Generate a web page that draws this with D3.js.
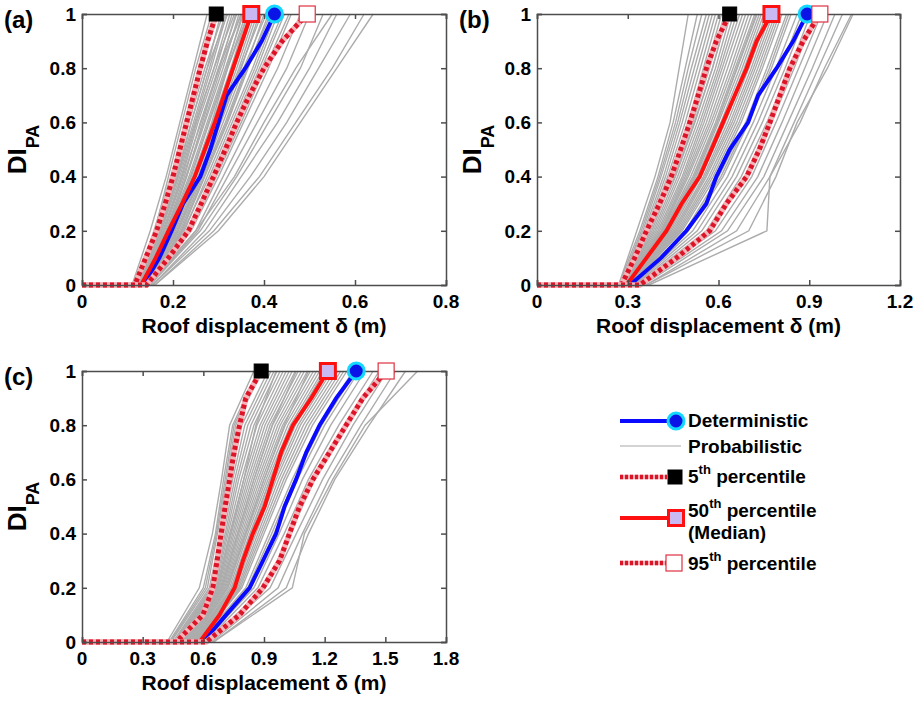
<!DOCTYPE html>
<html>
<head>
<meta charset="utf-8">
<script src="https://cdn.jsdelivr.net/npm/d3@7"></script>
<style>
  body { margin: 0; background: #fff; }
  svg { font-family: "Liberation Sans", Arial, sans-serif; font-weight: bold; }
</style>
</head>
<body>
<svg width="920" height="701"></svg>
<script>
// DI levels used by the curves
const diFine = [0, 0.1, 0.2, 0.3, 0.4, 0.5, 0.6, 0.7, 0.8, 0.9, 1];
const diCoarse = [0, 0.2, 0.4, 0.6, 0.8, 1];
const yTicks = [0, 0.2, 0.4, 0.6, 0.8, 1];

// roof displacement (m) at each diFine level
const detA = [0.135, 0.17, 0.197, 0.222, 0.26, 0.282, 0.30, 0.318, 0.359, 0.395, 0.423];
const p5A = [0.116, 0.14, 0.164, 0.183, 0.2, 0.215, 0.23, 0.245, 0.26, 0.276, 0.295];
const p50A = [0.13, 0.162, 0.19, 0.22, 0.248, 0.27, 0.292, 0.312, 0.332, 0.352, 0.372];
const p95A = [0.142, 0.19, 0.234, 0.262, 0.289, 0.315, 0.34, 0.368, 0.40, 0.44, 0.495];

const detB = [0.307, 0.41, 0.494, 0.56, 0.593, 0.637, 0.698, 0.731, 0.792, 0.847, 0.893];
const p5B = [0.279, 0.323, 0.362, 0.405, 0.444, 0.475, 0.505, 0.533, 0.56, 0.593, 0.637];
const p50B = [0.296, 0.362, 0.428, 0.478, 0.538, 0.577, 0.615, 0.654, 0.693, 0.726, 0.775];
const p95B = [0.34, 0.461, 0.571, 0.626, 0.693, 0.735, 0.77, 0.803, 0.836, 0.88, 0.935];

const detC = [0.598, 0.713, 0.829, 0.895, 0.96, 1.002, 1.059, 1.109, 1.175, 1.257, 1.356];
const p5C = [0.466, 0.598, 0.647, 0.668, 0.688, 0.708, 0.73, 0.752, 0.779, 0.81, 0.886];
const p50C = [0.582, 0.68, 0.755, 0.796, 0.845, 0.903, 0.944, 0.985, 1.043, 1.134, 1.216];
const p95C = [0.614, 0.779, 0.895, 0.977, 1.026, 1.076, 1.142, 1.224, 1.306, 1.389, 1.504];

// probabilistic runs: displacement at each diCoarse level
const probA = [
  [0.11, 0.15, 0.185, 0.215, 0.245, 0.275], [0.115, 0.16, 0.19, 0.22, 0.25, 0.285],
  [0.12, 0.165, 0.2, 0.225, 0.26, 0.30], [0.12, 0.17, 0.205, 0.235, 0.27, 0.31],
  [0.12, 0.175, 0.21, 0.245, 0.28, 0.315], [0.125, 0.175, 0.215, 0.25, 0.29, 0.325],
  [0.125, 0.18, 0.22, 0.255, 0.295, 0.33], [0.125, 0.185, 0.225, 0.26, 0.30, 0.34],
  [0.13, 0.19, 0.23, 0.27, 0.31, 0.345], [0.13, 0.19, 0.235, 0.275, 0.315, 0.355],
  [0.13, 0.195, 0.24, 0.28, 0.32, 0.36], [0.13, 0.2, 0.245, 0.29, 0.33, 0.37],
  [0.135, 0.2, 0.25, 0.295, 0.335, 0.375], [0.135, 0.205, 0.255, 0.30, 0.345, 0.385],
  [0.135, 0.21, 0.26, 0.305, 0.35, 0.39], [0.135, 0.215, 0.265, 0.315, 0.36, 0.40],
  [0.14, 0.22, 0.27, 0.32, 0.365, 0.41], [0.14, 0.225, 0.275, 0.325, 0.375, 0.42],
  [0.14, 0.23, 0.285, 0.335, 0.385, 0.43], [0.14, 0.235, 0.29, 0.345, 0.395, 0.445],
  [0.145, 0.24, 0.30, 0.355, 0.41, 0.46], [0.145, 0.25, 0.31, 0.37, 0.43, 0.48],
  [0.15, 0.255, 0.32, 0.385, 0.45, 0.50], [0.15, 0.26, 0.34, 0.41, 0.48, 0.53],
  [0.155, 0.27, 0.35, 0.43, 0.50, 0.56], [0.155, 0.28, 0.37, 0.45, 0.52, 0.59],
  [0.16, 0.29, 0.39, 0.47, 0.55, 0.62], [0.16, 0.30, 0.40, 0.48, 0.56, 0.64],
  [0.15, 0.25, 0.335, 0.40, 0.47, 0.55], [0.125, 0.17, 0.21, 0.24, 0.275, 0.32],
  [0.13, 0.185, 0.23, 0.265, 0.30, 0.35], [0.135, 0.195, 0.245, 0.285, 0.32, 0.365],
  [0.118, 0.158, 0.195, 0.228, 0.262, 0.295], [0.122, 0.168, 0.207, 0.24, 0.275, 0.305],
  [0.124, 0.172, 0.212, 0.248, 0.284, 0.318], [0.127, 0.178, 0.218, 0.252, 0.29, 0.335],
  [0.128, 0.182, 0.222, 0.262, 0.302, 0.338], [0.13, 0.188, 0.228, 0.268, 0.305, 0.35],
  [0.132, 0.192, 0.238, 0.278, 0.318, 0.352], [0.133, 0.198, 0.243, 0.287, 0.327, 0.365],
  [0.134, 0.203, 0.25, 0.298, 0.34, 0.38], [0.136, 0.208, 0.258, 0.302, 0.348, 0.395],
  [0.138, 0.212, 0.262, 0.31, 0.355, 0.405], [0.138, 0.218, 0.268, 0.318, 0.362, 0.415],
  [0.14, 0.222, 0.28, 0.33, 0.38, 0.425], [0.142, 0.232, 0.288, 0.34, 0.39, 0.44],
  [0.144, 0.238, 0.295, 0.35, 0.402, 0.455]
];
const probB = [
  [0.27, 0.33, 0.39, 0.44, 0.47, 0.50], [0.27, 0.34, 0.40, 0.45, 0.49, 0.53],
  [0.275, 0.35, 0.41, 0.465, 0.51, 0.56], [0.28, 0.36, 0.425, 0.48, 0.53, 0.58],
  [0.28, 0.37, 0.44, 0.50, 0.55, 0.60], [0.285, 0.38, 0.45, 0.515, 0.57, 0.62],
  [0.285, 0.39, 0.465, 0.53, 0.59, 0.64], [0.29, 0.40, 0.48, 0.545, 0.605, 0.66],
  [0.29, 0.41, 0.49, 0.56, 0.62, 0.68], [0.295, 0.415, 0.50, 0.575, 0.64, 0.70],
  [0.295, 0.42, 0.515, 0.59, 0.655, 0.72], [0.30, 0.43, 0.525, 0.60, 0.67, 0.735],
  [0.30, 0.44, 0.535, 0.615, 0.685, 0.75], [0.305, 0.45, 0.55, 0.63, 0.70, 0.765],
  [0.305, 0.46, 0.56, 0.645, 0.715, 0.78], [0.31, 0.47, 0.575, 0.66, 0.73, 0.795],
  [0.31, 0.48, 0.59, 0.675, 0.745, 0.81], [0.315, 0.49, 0.60, 0.69, 0.76, 0.825],
  [0.315, 0.50, 0.615, 0.70, 0.775, 0.84], [0.32, 0.515, 0.63, 0.715, 0.79, 0.86],
  [0.32, 0.53, 0.645, 0.73, 0.805, 0.875], [0.325, 0.545, 0.66, 0.745, 0.82, 0.89],
  [0.33, 0.56, 0.675, 0.76, 0.835, 0.905], [0.335, 0.575, 0.69, 0.775, 0.85, 0.92],
  [0.34, 0.59, 0.71, 0.79, 0.865, 0.94], [0.345, 0.61, 0.73, 0.81, 0.885, 0.96],
  [0.35, 0.63, 0.75, 0.83, 0.91, 0.985], [0.36, 0.66, 0.77, 0.85, 0.93, 1.01],
  [0.37, 0.76, 0.77, 0.87, 0.95, 1.04], [0.36, 0.70, 0.79, 0.86, 0.96, 1.045],
  [0.285, 0.37, 0.455, 0.52, 0.58, 0.63], [0.3, 0.425, 0.52, 0.595, 0.66, 0.725],
  [0.275, 0.345, 0.405, 0.458, 0.5, 0.545], [0.278, 0.355, 0.418, 0.472, 0.52, 0.57],
  [0.282, 0.365, 0.432, 0.49, 0.54, 0.59], [0.284, 0.375, 0.445, 0.508, 0.56, 0.61],
  [0.287, 0.385, 0.458, 0.522, 0.58, 0.63], [0.288, 0.395, 0.472, 0.538, 0.598, 0.65],
  [0.292, 0.405, 0.485, 0.552, 0.612, 0.67], [0.293, 0.412, 0.495, 0.568, 0.63, 0.69],
  [0.297, 0.418, 0.508, 0.582, 0.648, 0.71], [0.298, 0.425, 0.52, 0.595, 0.662, 0.728],
  [0.302, 0.435, 0.53, 0.608, 0.678, 0.742], [0.303, 0.445, 0.542, 0.622, 0.692, 0.758],
  [0.307, 0.455, 0.555, 0.638, 0.708, 0.772], [0.308, 0.465, 0.568, 0.652, 0.722, 0.788],
  [0.312, 0.475, 0.582, 0.668, 0.738, 0.802], [0.318, 0.495, 0.608, 0.695, 0.768, 0.832]
];
const probC = [
  [0.42, 0.58, 0.645, 0.69, 0.73, 0.85], [0.43, 0.60, 0.66, 0.70, 0.745, 0.87],
  [0.44, 0.62, 0.67, 0.715, 0.76, 0.89], [0.45, 0.63, 0.685, 0.735, 0.79, 0.92],
  [0.46, 0.645, 0.70, 0.755, 0.82, 0.95], [0.47, 0.655, 0.715, 0.775, 0.85, 0.98],
  [0.48, 0.665, 0.73, 0.80, 0.88, 1.01], [0.49, 0.675, 0.745, 0.82, 0.905, 1.04],
  [0.50, 0.685, 0.76, 0.84, 0.93, 1.07], [0.51, 0.695, 0.775, 0.86, 0.955, 1.10],
  [0.52, 0.705, 0.79, 0.88, 0.98, 1.13], [0.53, 0.715, 0.805, 0.90, 1.005, 1.16],
  [0.54, 0.73, 0.82, 0.92, 1.03, 1.19], [0.55, 0.745, 0.84, 0.94, 1.055, 1.22],
  [0.56, 0.76, 0.86, 0.96, 1.08, 1.25], [0.57, 0.775, 0.88, 0.985, 1.11, 1.28],
  [0.575, 0.79, 0.90, 1.01, 1.14, 1.31], [0.58, 0.81, 0.925, 1.04, 1.17, 1.34],
  [0.59, 0.83, 0.95, 1.065, 1.20, 1.37], [0.60, 0.85, 0.975, 1.09, 1.23, 1.40],
  [0.61, 0.87, 1.00, 1.12, 1.27, 1.44], [0.62, 0.90, 1.03, 1.15, 1.30, 1.47],
  [0.63, 0.93, 1.06, 1.19, 1.34, 1.51], [0.64, 0.97, 1.09, 1.22, 1.38, 1.55],
  [0.65, 1.01, 1.12, 1.25, 1.42, 1.60], [0.65, 1.04, 1.10, 1.24, 1.40, 1.66],
  [0.5, 0.67, 0.735, 0.80, 0.86, 0.96], [0.52, 0.69, 0.77, 0.85, 0.94, 1.06],
  [0.54, 0.72, 0.81, 0.9, 1.0, 1.12], [0.56, 0.74, 0.835, 0.93, 1.04, 1.2],
  [0.435, 0.61, 0.665, 0.708, 0.752, 0.88], [0.455, 0.638, 0.692, 0.745, 0.805, 0.935],
  [0.465, 0.65, 0.708, 0.765, 0.835, 0.965], [0.475, 0.66, 0.722, 0.788, 0.865, 0.995],
  [0.485, 0.67, 0.738, 0.81, 0.892, 1.025], [0.495, 0.68, 0.752, 0.83, 0.918, 1.055],
  [0.505, 0.69, 0.768, 0.85, 0.942, 1.085], [0.515, 0.7, 0.782, 0.87, 0.968, 1.115],
  [0.525, 0.71, 0.798, 0.89, 0.992, 1.145], [0.535, 0.722, 0.812, 0.91, 1.018, 1.175],
  [0.545, 0.738, 0.83, 0.93, 1.042, 1.205], [0.555, 0.752, 0.85, 0.95, 1.068, 1.235],
  [0.565, 0.768, 0.87, 0.972, 1.095, 1.265], [0.575, 0.782, 0.89, 0.998, 1.125, 1.295],
  [0.585, 0.82, 0.938, 1.052, 1.185, 1.355]
];

const xTicksA = [0, 0.2, 0.4, 0.6, 0.8];
const xTicksB = [0, 0.3, 0.6, 0.9, 1.2];
const xTicksC = [0, 0.3, 0.6, 0.9, 1.2, 1.5, 1.8];

const svg = d3.select("svg");
const axisColor = "#4d4d4d";
const redC = "#ff1010";

const panels = [
  { tag: "(a)", x0: 82, x1: 446, y0: 14, y1: 285, xmax: 0.8, ticks: xTicksA,
    det: detA, p5: p5A, p50: p50A, p95: p95A, prob: probA },
  { tag: "(b)", x0: 537, x1: 900, y0: 14, y1: 285, xmax: 1.2, ticks: xTicksB,
    det: detB, p5: p5B, p50: p50B, p95: p95B, prob: probB },
  { tag: "(c)", x0: 82, x1: 446, y0: 371, y1: 642, xmax: 1.8, ticks: xTicksC,
    det: detC, p5: p5C, p50: p50C, p95: p95C, prob: probC }
];

function toPts(xs, levels) {
  // every run sits at DI = 0 from zero displacement up to its onset
  return [[0, 0]].concat(xs.map((v, i) => [v, levels[i]]));
}

function drawDotted(g, line, pts) {
  g.append("path").attr("d", line(pts)).attr("fill", "none")
    .attr("stroke", "#f6b3b8").attr("stroke-width", 5.5);
  g.append("path").attr("d", line(pts)).attr("fill", "none")
    .attr("stroke", "#dc1428").attr("stroke-width", 5)
    .attr("stroke-dasharray", "4,3");
}

function markerSquare(g, cx, cy, size, fill, stroke, sw) {
  g.append("rect").attr("x", cx - size / 2).attr("y", cy - size / 2)
    .attr("width", size).attr("height", size)
    .attr("fill", fill).attr("stroke", stroke).attr("stroke-width", sw);
}

function markerCircle(g, cx, cy) {
  g.append("circle").attr("cx", cx).attr("cy", cy).attr("r", 8)
    .attr("fill", "#0a14e6").attr("stroke", "#14d8ff").attr("stroke-width", 3);
}

panels.forEach(function (p) {
  const x = d3.scaleLinear().domain([0, p.xmax]).range([p.x0, p.x1]);
  const y = d3.scaleLinear().domain([0, 1]).range([p.y1, p.y0]);
  const line = d3.line().x(d => x(d[0])).y(d => y(d[1]));
  const g = svg.append("g");

  // probabilistic runs
  g.append("g").selectAll("path")
    .data(p.prob)
    .enter()
    .append("path")
    .attr("d", d => line(toPts(d, diCoarse)))
    .attr("fill", "none")
    .attr("stroke", "#acacac")
    .attr("stroke-width", 1.4);

  g.append("path").attr("d", line(toPts(p.det, diFine))).attr("fill", "none")
    .attr("stroke", "#0a0aff").attr("stroke-width", 4);
  drawDotted(g, line, toPts(p.p5, diFine));
  g.append("path").attr("d", line(toPts(p.p50, diFine))).attr("fill", "none")
    .attr("stroke", redC).attr("stroke-width", 4);
  drawDotted(g, line, toPts(p.p95, diFine));

  // axes box with inward ticks on all sides
  g.append("g").attr("transform", `translate(0,${p.y1})`)
    .call(d3.axisBottom(x).tickValues(p.ticks).tickSize(-5).tickFormat(""))
    .call(a => a.selectAll("line,path").attr("stroke", axisColor).attr("stroke-width", 1.5));
  g.append("g").attr("transform", `translate(0,${p.y0})`)
    .call(d3.axisTop(x).tickValues(p.ticks).tickSize(-5).tickFormat(""))
    .call(a => a.selectAll("line,path").attr("stroke", axisColor).attr("stroke-width", 1.5));
  g.append("g").attr("transform", `translate(${p.x0},0)`)
    .call(d3.axisLeft(y).tickValues(yTicks).tickSize(-5).tickFormat(""))
    .call(a => a.selectAll("line,path").attr("stroke", axisColor).attr("stroke-width", 1.5));
  g.append("g").attr("transform", `translate(${p.x1},0)`)
    .call(d3.axisRight(y).tickValues(yTicks).tickSize(-5).tickFormat(""))
    .call(a => a.selectAll("line,path").attr("stroke", axisColor).attr("stroke-width", 1.5));

  // tick labels
  g.append("g").selectAll("text").data(p.ticks).enter().append("text")
    .attr("x", d => x(d)).attr("y", p.y1 + 23)
    .attr("text-anchor", "middle").attr("font-size", 19)
    .text(d => d3.format("~g")(d));
  g.append("g").selectAll("text").data(yTicks).enter().append("text")
    .attr("x", p.x0 - 6).attr("y", d => y(d)).attr("dy", "0.36em")
    .attr("text-anchor", "end").attr("font-size", 19)
    .text(d => d3.format("~g")(d));

  // end markers at DI = 1
  const top = y(1);
  markerSquare(g, x(p.p5[10]), top, 14, "#000", "#000", 1);
  markerSquare(g, x(p.p50[10]), top, 15, "#c9b8f2", redC, 3);
  markerCircle(g, x(p.det[10]), top);
  markerSquare(g, x(p.p95[10]), top, 16, "#fff", "#e03040", 1.2);

  // titles
  g.append("text").attr("x", (p.x0 + p.x1) / 2).attr("y", p.y1 + 48)
    .attr("text-anchor", "middle").attr("font-size", 21)
    .text("Roof displacement \u03b4 (m)");
  const yl = g.append("text")
    .attr("transform", `translate(${p.x0 - 56},${(p.y0 + p.y1) / 2}) rotate(-90)`)
    .attr("text-anchor", "middle").attr("font-size", 26);
  yl.append("tspan").text("DI");
  yl.append("tspan").attr("font-size", 18).attr("dy", 13).text("PA");
  g.append("text").attr("x", p.x0 - 78).attr("y", p.y0 + 14)
    .attr("font-size", 24).text(p.tag);
});

// legend
const lg = svg.append("g");
const lx0 = 620, lx1 = 668, tx = 688;
lg.append("line").attr("x1", lx0).attr("x2", lx1).attr("y1", 421).attr("y2", 421)
  .attr("stroke", "#0a0aff").attr("stroke-width", 4);
markerCircle(lg, 676, 421);
lg.append("line").attr("x1", lx0).attr("x2", 681).attr("y1", 446).attr("y2", 446)
  .attr("stroke", "#c4c4c4").attr("stroke-width", 1.5);
function legendDotted(yy, xe) {
  lg.append("line").attr("x1", lx0).attr("x2", xe).attr("y1", yy).attr("y2", yy)
    .attr("stroke", "#f6b3b8").attr("stroke-width", 4.5);
  lg.append("line").attr("x1", lx0).attr("x2", xe).attr("y1", yy).attr("y2", yy)
    .attr("stroke", "#dc1428").attr("stroke-width", 4.5).attr("stroke-dasharray", "3,2");
}
legendDotted(477, 667);
markerSquare(lg, 675, 477, 14, "#000", "#000", 1);
lg.append("line").attr("x1", lx0).attr("x2", lx1).attr("y1", 518).attr("y2", 518)
  .attr("stroke", redC).attr("stroke-width", 4);
markerSquare(lg, 676, 518, 15, "#c9b8f2", redC, 3);
legendDotted(563, 666);
markerSquare(lg, 674, 563, 16, "#fff", "#e03040", 1.2);

function legendText(yy, main, sup, rest) {
  const t = lg.append("text").attr("x", tx).attr("y", yy).attr("font-size", 19);
  t.append("tspan").text(main);
  if (sup) {
    t.append("tspan").attr("font-size", 13).attr("dy", -9).text(sup);
    t.append("tspan").attr("dy", 9).text(rest);
  }
}
legendText(427, "Deterministic");
legendText(453, "Probabilistic");
legendText(483, "5", "th", " percentile");
legendText(517, "50", "th", " percentile");
legendText(539, "(Median)");
legendText(570, "95", "th", " percentile");
</script>
</body>
</html>
